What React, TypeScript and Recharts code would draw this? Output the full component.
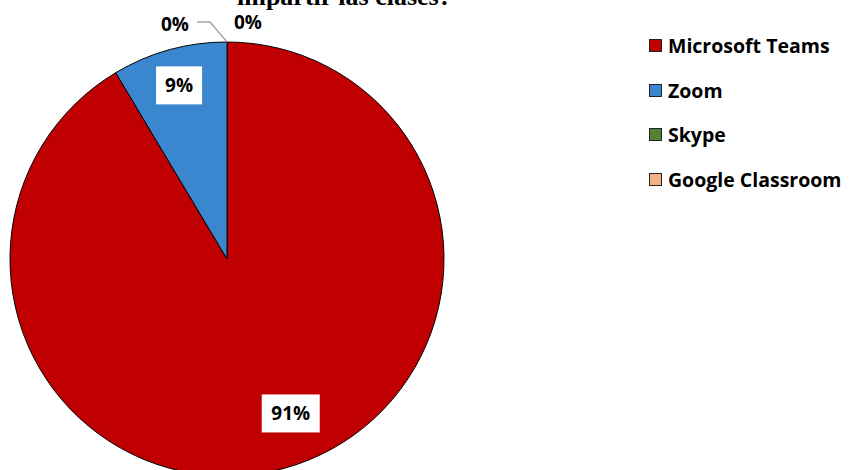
import React from "react";
import { PieChart, Pie, Cell } from "recharts";

const categories = ["Microsoft Teams", "Zoom", "Skype", "Google Classroom"];
const values = [32, 3, 0, 0];
const percentLabels = ["91%", "9%", "0%", "0%"];
const colors = ["#C00000", "#3A86CF", "#548235", "#F4B183"];
const titleText = "impartir las clases?";

const data = categories.map((name, i) => ({ name, value: values[i], label: percentLabels[i] }));

const RAD = Math.PI / 180;
const labelFont = "'Open Sans', Lato, sans-serif";

const renderLabel = (props: any) => {
  const { cx, cy, midAngle, outerRadius, index } = props;
  const label = percentLabels[index];
  if (values[index] > 0) {
    const frac = index === 0 ? 0.77 : 0.83;
    const ang = index === 0 ? midAngle + 7 : midAngle;
    const x = cx + outerRadius * frac * Math.cos(-ang * RAD);
    const y = cy + outerRadius * frac * Math.sin(-ang * RAD);
    const w = index === 0 ? 58 : 46;
    return (
      <g key={`l${index}`}>
        <rect x={x - w / 2} y={y - 19} width={w} height={38} fill="#fff" />
        <text x={x} y={y} textAnchor="middle" dominantBaseline="central" fontFamily={labelFont} fontWeight={700} fontSize={19} fill="#000">
          {label}
        </text>
      </g>
    );
  }
  const topX = cx;
  const topY = cy - outerRadius;
  if (index === 2) {
    return (
      <g key={`l${index}`}>
        <polyline points={`${topX},${topY} ${topX - 17},${topY - 20} ${topX - 30},${topY - 20}`} fill="none" stroke="#A6A6A6" strokeWidth={1.5} />
        <text x={topX - 52} y={topY - 18} textAnchor="middle" dominantBaseline="central" fontFamily={labelFont} fontWeight={700} fontSize={19} fill="#000">
          {label}
        </text>
      </g>
    );
  }
  return (
    <text key={`l${index}`} x={topX + 21} y={topY - 20} textAnchor="middle" dominantBaseline="central" fontFamily={labelFont} fontWeight={700} fontSize={19} fill="#000">
      {label}
    </text>
  );
};

export default function App() {
  return (
    <div style={{ position: "absolute", left: 0, top: 0, width: 849, height: 470, background: "#fff", overflow: "hidden" }}>
      <div style={{ position: "absolute", left: 237, top: -16, fontFamily: "'Liberation Serif', 'Times New Roman', serif", fontWeight: 700, fontSize: 26, color: "#000", whiteSpace: "nowrap", lineHeight: "26px" }}>
        {titleText}
      </div>
      <PieChart width={849} height={470} margin={{ top: 0, right: 0, bottom: 0, left: 0 }}>
        <Pie
          data={data}
          dataKey="value"
          nameKey="name"
          cx={227}
          cy={259}
          outerRadius={217}
          startAngle={90}
          endAngle={-270}
          stroke="#000"
          strokeWidth={1}
          isAnimationActive={false}
          label={renderLabel}
          labelLine={false}
        >
          {data.map((d, i) => (
            <Cell key={d.name} fill={colors[i]} />
          ))}
        </Pie>
      </PieChart>
      <div style={{ position: "absolute", left: 649, top: 23, fontFamily: labelFont, fontWeight: 700, fontSize: 19.5, color: "#000" }}>
        {categories.map((c, i) => (
          <div key={c} style={{ display: "flex", alignItems: "center", height: 44.7 }}>
            <span style={{ display: "inline-block", width: 11, height: 11, background: colors[i], border: "1px solid #222", marginRight: 6 }} />
            <span>{c}</span>
          </div>
        ))}
      </div>
    </div>
  );
}
